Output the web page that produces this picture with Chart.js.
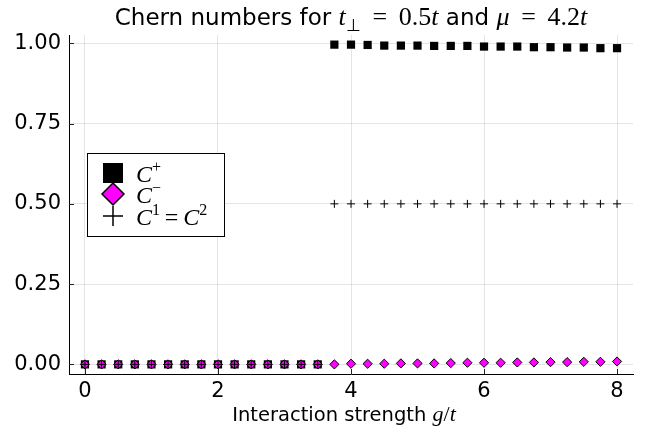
<!DOCTYPE html>
<html>
<head>
<meta charset="utf-8">
<script src="https://cdn.jsdelivr.net/npm/chart.js@4.4.0/dist/chart.umd.min.js"></script>
<style>
  body { margin: 0; background: #fff; }
  #wrap { width: 657px; height: 435px; position: relative; }
</style>
</head>
<body>
<div id="wrap"><canvas id="chernChart"></canvas></div>
<script>
// interaction strength g/t
const gValues = [0, 0.25, 0.5, 0.75, 1, 1.25, 1.5, 1.75, 2, 2.25, 2.5, 2.75, 3, 3.25, 3.5,
    3.75, 4, 4.25, 4.5, 4.75, 5, 5.25, 5.5, 5.75, 6, 6.25, 6.5, 6.75, 7, 7.25, 7.5, 7.75, 8];

// Chern numbers per band
const cPlus = [0, 0, 0, 0, 0, 0, 0, 0, 0, 0, 0, 0, 0, 0, 0,
    0.996, 0.996, 0.995, 0.993, 0.993, 0.993, 0.992, 0.992, 0.992, 0.990, 0.990, 0.990,
    0.988, 0.988, 0.987, 0.987, 0.985, 0.985];
const cMinus = [0, 0, 0, 0, 0, 0, 0, 0, 0, 0, 0, 0, 0, 0, 0,
    0.000, 0.002, 0.002, 0.002, 0.003, 0.003, 0.003, 0.004, 0.005, 0.005, 0.005, 0.006,
    0.006, 0.007, 0.007, 0.008, 0.008, 0.009];
const cOneTwo = [0, 0, 0, 0, 0, 0, 0, 0, 0, 0, 0, 0, 0, 0, 0,
    0.5, 0.5, 0.5, 0.5, 0.5, 0.5, 0.5, 0.5, 0.5, 0.5, 0.5, 0.5, 0.5, 0.5, 0.5, 0.5, 0.5, 0.5];

const xTickValues = [0, 2, 4, 6, 8];
const yTickValues = [0, 0.25, 0.5, 0.75, 1];

const SANS = 'DejaVu Sans';
const MATH = 'Liberation Serif';

function toPoints(ys) {
    return gValues.map((g, i) => ({ x: g, y: ys[i] }));
}

// draws a row of text pieces with mixed fonts, centred on cx
function drawRuns(ctx, runs, cx, baseline, align) {
    ctx.save();
    ctx.textBaseline = 'alphabetic';
    ctx.textAlign = 'left';
    let total = 0;
    runs.forEach(r => {
        ctx.font = r.f;
        r.w = ctx.measureText(r.t).width;
        total += r.w;
    });
    let x = align === 'left' ? cx : cx - total / 2;
    runs.forEach(r => {
        ctx.font = r.f;
        ctx.fillStyle = r.c || '#000';
        ctx.fillText(r.t, x, baseline + (r.dy || 0));
        x += r.w;
    });
    ctx.restore();
}

const mathIt = size => 'italic ' + size + 'px "' + MATH + '"';
const mathRm = size => size + 'px "' + MATH + '"';
const sans = size => size + 'px "' + SANS + '"';

const titleRuns = [
    { t: 'Chern numbers for ', f: sans(23) },
    { t: 't', f: mathIt(26) },
    { t: '\u22A5', f: mathRm(17), dy: 6 },
    { t: ' \u2009=\u2009 0.5', f: mathRm(26) },
    { t: 't', f: mathIt(26) },
    { t: ' and ', f: sans(23) },
    { t: '\u03BC', f: mathIt(26) },
    { t: ' \u2009=\u2009 4.2', f: mathRm(26) },
    { t: 't', f: mathIt(26) }
];

const xLabelRuns = [
    { t: 'Interaction strength ', f: sans(19.5) },
    { t: 'g', f: mathIt(22) },
    { t: '/', f: mathRm(22) },
    { t: 't', f: mathIt(22) }
];

const legendLabels = [
    [{ t: 'C', f: mathIt(24) }, { t: '+', f: mathRm(16), dy: -10 }],
    [{ t: 'C', f: mathIt(24) }, { t: '\u2212', f: mathRm(16), dy: -10 }],
    [{ t: 'C', f: mathIt(24) }, { t: '1', f: mathRm(16), dy: -10 }, { t: '\u2009=\u2009', f: mathRm(24) },
     { t: 'C', f: mathIt(24) }, { t: '2', f: mathRm(16), dy: -10 }]
];

const decorations = {
    id: 'decorations',
    beforeDatasetsDraw(chart) {
        // short inward ticks on the two drawn axes
        const ctx = chart.ctx;
        const area = chart.chartArea;
        const xs = chart.scales.x, ys = chart.scales.y;
        ctx.save();
        ctx.strokeStyle = '#222';
        ctx.lineWidth = 1;
        ctx.beginPath();
        xTickValues.forEach(v => {
            const px = Math.round(xs.getPixelForValue(v)) + 0.5;
            ctx.moveTo(px, area.bottom);
            ctx.lineTo(px, area.bottom - 5);
        });
        yTickValues.forEach(v => {
            const py = Math.round(ys.getPixelForValue(v)) + 0.5;
            ctx.moveTo(area.left, py);
            ctx.lineTo(area.left + 5, py);
        });
        ctx.stroke();
        ctx.restore();
    },
    afterDatasetsDraw(chart) {
        const ctx = chart.ctx;
        const area = chart.chartArea;
        const mid = (area.left + area.right) / 2;

        drawRuns(ctx, titleRuns, mid, 25);
        drawRuns(ctx, xLabelRuns, mid - 7, 421);

        // legend box
        const bx = 87.5, by = 153.5, bw = 137, bh = 83;
        ctx.save();
        ctx.fillStyle = '#fff';
        ctx.fillRect(bx, by, bw, bh);
        ctx.strokeStyle = '#000';
        ctx.lineWidth = 1;
        ctx.strokeRect(bx, by, bw, bh);

        const mx = 113;
        const rows = [173, 194, 216];
        // square
        ctx.fillStyle = '#000';
        ctx.fillRect(mx - 10, rows[0] - 10, 20, 20);
        // diamond
        ctx.beginPath();
        ctx.moveTo(mx - 11, rows[1]);
        ctx.lineTo(mx, rows[1] - 11);
        ctx.lineTo(mx + 11, rows[1]);
        ctx.lineTo(mx, rows[1] + 11);
        ctx.closePath();
        ctx.fillStyle = '#ff00ff';
        ctx.fill();
        ctx.lineWidth = 1.5;
        ctx.strokeStyle = '#000';
        ctx.stroke();
        // plus
        ctx.beginPath();
        ctx.moveTo(mx - 10, rows[2]);
        ctx.lineTo(mx + 10, rows[2]);
        ctx.moveTo(mx, rows[2] - 10);
        ctx.lineTo(mx, rows[2] + 10);
        ctx.lineWidth = 1.5;
        ctx.stroke();
        ctx.restore();

        legendLabels.forEach((runs, i) => {
            drawRuns(ctx, runs, 136, rows[i] + 9, 'left');
        });
    }
};

const ctx = document.getElementById('chernChart').getContext('2d');
new Chart(ctx, {
    type: 'scatter',
    data: {
        datasets: [{
            label: 'C+',
            data: toPoints(cPlus),
            pointStyle: 'rect',
            pointRadius: 5.8,
            backgroundColor: '#000',
            borderColor: '#000',
            borderWidth: 0,
            order: 3
        }, {
            label: 'C-',
            data: toPoints(cMinus),
            pointStyle: 'rectRot',
            pointRadius: 4.6,
            backgroundColor: '#ff00ff',
            borderColor: '#000',
            borderWidth: 1,
            order: 2
        }, {
            label: 'C1 = C2',
            data: toPoints(cOneTwo),
            pointStyle: 'cross',
            pointRadius: 4,
            backgroundColor: '#000',
            borderColor: '#000',
            borderWidth: 1,
            order: 1
        }]
    },
    options: {
        responsive: true,
        maintainAspectRatio: false,
        animation: false,
        events: [],
        layout: { padding: { top: 35, right: 24, left: 0, bottom: 0 } },
        plugins: {
            legend: { display: false },
            tooltip: { enabled: false }
        },
        scales: {
            x: {
                type: 'linear',
                min: -0.24,
                max: 8.24,
                afterBuildTicks: function (scale) {
                    scale.ticks = xTickValues.map(v => ({ value: v }));
                },
                afterFit: function (scale) { scale.height = 61; },
                grid: { color: 'rgba(0,0,0,0.1)', drawTicks: false },
                border: { color: '#000', width: 1 },
                ticks: {
                    padding: 5,
                    color: '#000',
                    maxRotation: 0,
                    autoSkip: false,
                    font: { family: SANS, size: 21 },
                    callback: function (value) { return String(value); }
                }
            },
            y: {
                type: 'linear',
                min: -0.03,
                max: 1.026,
                afterBuildTicks: function (scale) {
                    scale.ticks = yTickValues.map(v => ({ value: v }));
                },
                afterFit: function (scale) { scale.width = 69; },
                grid: { color: 'rgba(0,0,0,0.1)', drawTicks: false },
                border: { color: '#000', width: 1 },
                ticks: {
                    padding: 8,
                    color: '#000',
                    autoSkip: false,
                    font: { family: SANS, size: 21 },
                    callback: function (value) { return value.toFixed(2); }
                }
            }
        }
    },
    plugins: [decorations]
});
</script>
</body>
</html>
